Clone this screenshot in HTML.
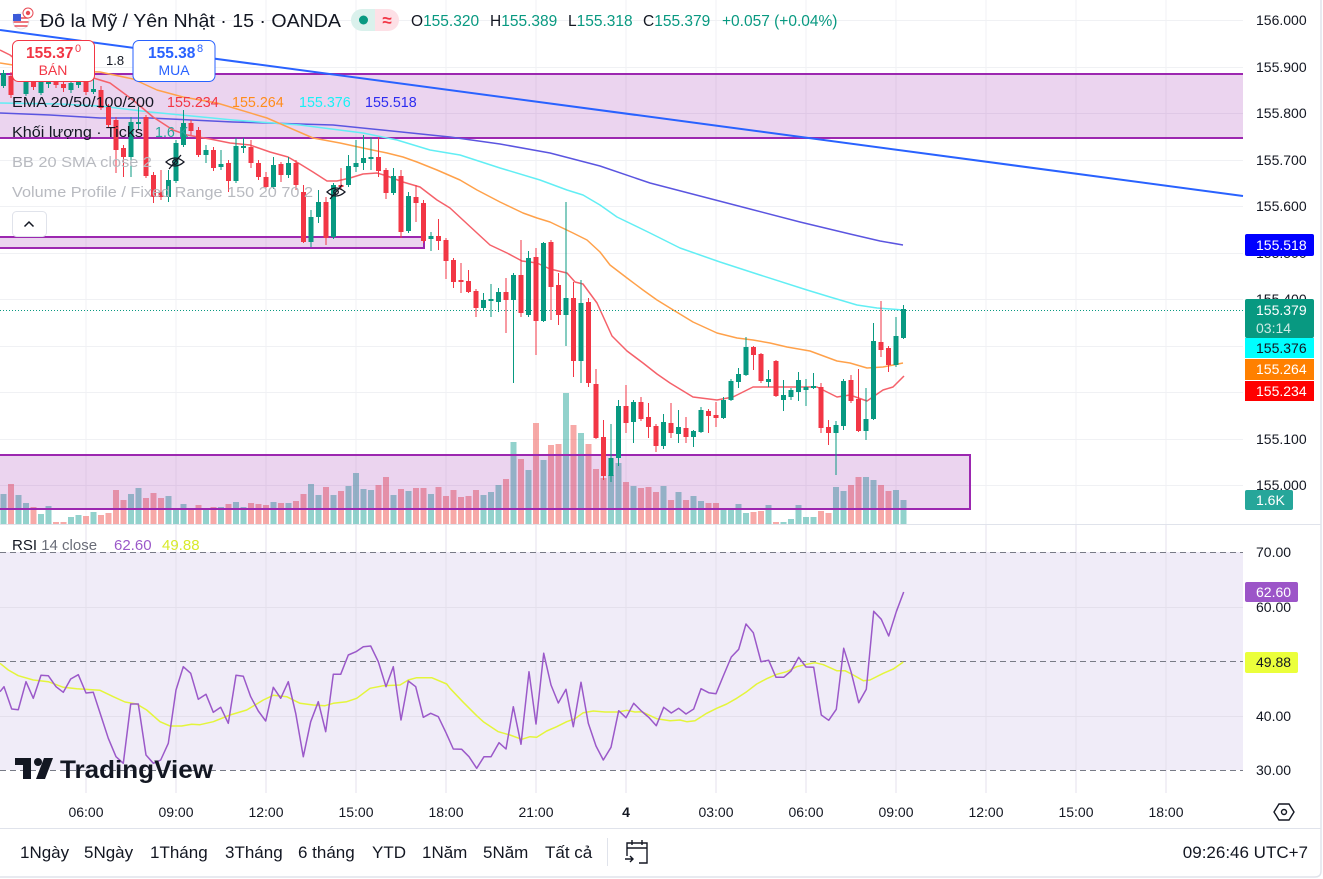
<!DOCTYPE html>
<html><head><meta charset="utf-8"><style>
html,body{margin:0;padding:0;background:#fff;}
svg{display:block;font-family:"Liberation Sans","DejaVu Sans",sans-serif;}
</style></head><body>
<svg width="1323" height="879" viewBox="0 0 1323 879" xmlns="http://www.w3.org/2000/svg">
<rect x="0" y="0" width="1323" height="879" fill="#fff"/>
<!-- grid -->
<g stroke="#f0f1f4" stroke-width="1">
<path d="M86 0V524M176 0V524M266 0V524M356 0V524M446 0V524M536 0V524M626 0V524M716 0V524M806 0V524M896 0V524M986 0V524M1076 0V524M1166 0V524"/>
<path d="M0 20.5H1243M0 67.5H1243M0 113.5H1243M0 160.5H1243M0 206.5H1243M0 253.5H1243M0 299.5H1243M0 346.5H1243M0 392.5H1243M0 439.5H1243M0 485.5H1243"/>
</g>
<!-- RSI pane -->
<rect x="0" y="552" width="1243" height="218" fill="#f0ecf8"/>
<g stroke="#e4e0ec" stroke-width="1">
<path d="M86 525V793M176 525V793M266 525V793M356 525V793M446 525V793M536 525V793M626 525V793M716 525V793M806 525V793M896 525V793M986 525V793M1076 525V793M1166 525V793"/>
<path d="M0 607.5H1243M0 716.5H1243"/>
</g>
<g stroke="#787b86" stroke-width="1" stroke-dasharray="6,4" fill="none">
<path d="M0 552.5H1243M0 661.5H1243M0 770.5H1243"/>
</g>
<!-- volume -->
<path fill="rgba(38,166,154,0.5)" d="M0.5 494h6V524h-6ZM15.5 495h6V524h-6ZM23 503h6V524h-6ZM38 514h6V524h-6ZM45.5 506h6V524h-6ZM68 517h6V524h-6ZM75.5 515h6V524h-6ZM90.5 512h6V524h-6ZM128 494h6V524h-6ZM135.5 488h6V524h-6ZM165.5 496h6V524h-6ZM173 508h6V524h-6ZM180.5 504h6V524h-6ZM203 509h6V524h-6ZM218 507h6V524h-6ZM233 502h6V524h-6ZM240.5 507h6V524h-6ZM270.5 502h6V524h-6ZM285.5 503h6V524h-6ZM308 484h6V524h-6ZM315.5 495h6V524h-6ZM330.5 495h6V524h-6ZM345.5 486h6V524h-6ZM353 473h6V524h-6ZM360.5 489h6V524h-6ZM368 490h6V524h-6ZM390.5 495h6V524h-6ZM405.5 491h6V524h-6ZM428 494h6V524h-6ZM480.5 495h6V524h-6ZM488 492h6V524h-6ZM495.5 485h6V524h-6ZM510.5 442h6V524h-6ZM525.5 470h6V524h-6ZM540.5 460h6V524h-6ZM563 393h6V524h-6ZM578 433h6V524h-6ZM608 475h6V524h-6ZM615.5 463h6V524h-6ZM630.5 486h6V524h-6ZM660.5 486h6V524h-6ZM675.5 492h6V524h-6ZM690.5 496h6V524h-6ZM698 501h6V524h-6ZM720.5 508h6V524h-6ZM728 508h6V524h-6ZM735.5 504h6V524h-6ZM743 513h6V524h-6ZM765.5 505h6V524h-6ZM780.5 522h6V524h-6ZM788 519h6V524h-6ZM795.5 505h6V524h-6ZM803 517h6V524h-6ZM810.5 517h6V524h-6ZM833 487h6V524h-6ZM840.5 491h6V524h-6ZM863 477h6V524h-6ZM870.5 480h6V524h-6ZM893 490h6V524h-6ZM900.5 500h6V524h-6Z"/>
<path fill="rgba(239,83,80,0.5)" d="M8 484h6V524h-6ZM30.5 507h6V524h-6ZM53 522h6V524h-6ZM60.5 522h6V524h-6ZM83 516h6V524h-6ZM98 515h6V524h-6ZM105.5 513h6V524h-6ZM113 490h6V524h-6ZM120.5 500h6V524h-6ZM143 498h6V524h-6ZM150.5 493h6V524h-6ZM158 498h6V524h-6ZM188 509h6V524h-6ZM195.5 505h6V524h-6ZM210.5 507h6V524h-6ZM225.5 504h6V524h-6ZM248 503h6V524h-6ZM255.5 504h6V524h-6ZM263 505h6V524h-6ZM278 503h6V524h-6ZM293 501h6V524h-6ZM300.5 494h6V524h-6ZM323 487h6V524h-6ZM338 491h6V524h-6ZM375.5 485h6V524h-6ZM383 477h6V524h-6ZM398 489h6V524h-6ZM413 488h6V524h-6ZM420.5 488h6V524h-6ZM435.5 487h6V524h-6ZM443 496h6V524h-6ZM450.5 490h6V524h-6ZM458 497h6V524h-6ZM465.5 496h6V524h-6ZM473 490h6V524h-6ZM503 479h6V524h-6ZM518 459h6V524h-6ZM533 423h6V524h-6ZM548 445h6V524h-6ZM555.5 444h6V524h-6ZM570.5 425h6V524h-6ZM585.5 444h6V524h-6ZM593 469h6V524h-6ZM600.5 478h6V524h-6ZM623 482h6V524h-6ZM638 488h6V524h-6ZM645.5 487h6V524h-6ZM653 492h6V524h-6ZM668 500h6V524h-6ZM683 500h6V524h-6ZM705.5 503h6V524h-6ZM713 503h6V524h-6ZM750.5 512h6V524h-6ZM758 511h6V524h-6ZM773 522h6V524h-6ZM818 511h6V524h-6ZM825.5 513h6V524h-6ZM848 485h6V524h-6ZM855.5 477h6V524h-6ZM878 485h6V524h-6ZM885.5 491h6V524h-6Z"/>
<!-- zones -->
<g fill="rgba(156,39,176,0.2)">
<rect x="0" y="74" width="1243" height="64"/>
<rect x="0" y="237" width="424" height="11"/>
<rect x="0" y="455" width="970" height="54"/>
</g>
<g stroke="#9c27b0" stroke-width="2" fill="none">
<path d="M0 74H1243M0 138H1243"/>
<path d="M0 237H424V248H0"/>
<path d="M0 455H970V509H0"/>
</g>
<!-- trendline -->
<line x1="0" y1="30" x2="1243" y2="196" stroke="#2962ff" stroke-width="2"/>
<!-- EMAs -->
<g fill="none" stroke-width="1.5" stroke-linejoin="round">
<polyline stroke="#5b55e0" points="0,113 50,115 100,118 150,118 233,122 333,125 450,137 500,144 550,153 600,166 650,183 700,196 750,209 800,222 850,234 880,241 903,245"/>
<polyline stroke="#62eef4" points="0,103 60,104 100,106 150,112 233,120 300,125 363,133 397,140 430,150 460,155 500,168 540,180 567,190 583,195 600,205 617,217 650,233 680,248 720,262 760,275 807,290 830,297 857,305 877,308 903,310"/>
<polyline stroke="#ffa14a" points="0,63 13,65 33,70 70,71 100,72 133,79 157,90 183,97 217,103 267,118 313,138 340,143 363,148 387,153 403,157 417,162 437,170 460,180 477,190 500,202 523,213 537,218 550,222 573,233 587,240 600,252 610,265 627,278 643,290 657,300 670,308 693,322 717,333 737,338 753,340 770,343 787,347 810,351 837,361 850,363 867,368 883,367 903,363"/>
<polyline stroke="#f5616a" points="0,50 10,55 20,63 40,68 60,72 90,77 110,83 133,100 153,117 173,130 187,135 210,139 230,143 250,145 270,152 288,157 300,164 313,172 327,181 337,181 350,178 363,174 377,173 387,176 403,182 420,187 437,200 450,208 477,233 490,245 507,253 522,261 537,263 550,269 567,273 575,282 583,284 597,303 612,336 627,351 643,363 657,374 670,383 693,397 717,400 733,397 753,387 777,387 817,387 837,397 850,395 867,401 883,390 893,387 904,376"/>
</g>
<!-- current price line -->
<line x1="0" y1="310.5" x2="1243" y2="310.5" stroke="#089981" stroke-width="1" stroke-dasharray="1,2"/>
<!-- candles green -->
<path stroke="#089981" stroke-width="1" fill="none" d="M3.5 70V88M18.5 66V82M26 78V96M41 78V95M48.5 76V88M71 79V93M78.5 78V88M93.5 78V94M131 117V177M138.5 107V130M168.5 170V202M176 140V183M183.5 110V147M206 145V163M221 150V170M236 138V183M243.5 138V153M273.5 157V189M288.5 157V178M311 210V247M318.5 190V223M333.5 183V239M348.5 155V187M356 140V172M363.5 135V170M371 137V170M393.5 168V195M408.5 192V233M431 232V251M483.5 293V310M491 284V317M498.5 288V312M513.5 273V383M528.5 251V317M543.5 242V322M566 202V346M581 280V383M611 424V482M618.5 400V466M633.5 400V443M663.5 414V449M678.5 410V443M693.5 430V447M701 407V433M723.5 397V419M731 379V401M738.5 368V388M746 337V376M768.5 370V387M783.5 380V411M791 388V400M798.5 372V401M806 379V406M813.5 373V389M836 421V475M843.5 379V430M866 388V440M873.5 323V420M896 317V367M903.5 305V339"/>
<path fill="#089981" d="M1 73h5V86h-5ZM16 70h5V80h-5ZM23.5 82h5V94h-5ZM38.5 82h5V93h-5ZM46 80h5V84h-5ZM68.5 83h5V90h-5ZM76 82h5V85h-5ZM91 89h5V92h-5ZM128.5 122h5V157h-5ZM136 122h5V124h-5ZM166 180h5V197h-5ZM173.5 143h5V181h-5ZM181 123h5V145h-5ZM203.5 150h5V155h-5ZM218.5 164h5V167h-5ZM233.5 146h5V181h-5ZM241 146h5V148h-5ZM271 165h5V187h-5ZM286 163h5V175h-5ZM308.5 217h5V242h-5ZM316 202h5V217h-5ZM331 185h5V237h-5ZM346 166h5V185h-5ZM353.5 163h5V167h-5ZM361 158h5V163h-5ZM368.5 157h5V159h-5ZM391 176h5V193h-5ZM406 196h5V231h-5ZM428.5 236h5V239h-5ZM481 300h5V308h-5ZM488.5 299h5V301h-5ZM496 292h5V302h-5ZM511 275h5V300h-5ZM526 258h5V315h-5ZM541 243h5V321h-5ZM563.5 298h5V315h-5ZM578.5 303h5V361h-5ZM608.5 458h5V476h-5ZM616 406h5V458h-5ZM631 402h5V422h-5ZM661 422h5V446h-5ZM676 427h5V434h-5ZM691 431h5V437h-5ZM698.5 410h5V432h-5ZM721 400h5V418h-5ZM728.5 381h5V400h-5ZM736 374h5V382h-5ZM743.5 347h5V375h-5ZM766 379h5V382h-5ZM781 395h5V400h-5ZM788.5 390h5V397h-5ZM796 380h5V392h-5ZM803.5 387h5V390h-5ZM811 386h5V388h-5ZM833.5 425h5V433h-5ZM841 381h5V426h-5ZM863.5 419h5V431h-5ZM871 341h5V419h-5ZM893.5 336h5V365h-5ZM901 309h5V338h-5Z"/>
<!-- candles red -->
<path stroke="#f23645" stroke-width="1" fill="none" d="M11 72V98M33.5 76V90M56 78V88M63.5 80V92M86 78V95M101 86V110M108.5 104V128M116 117V173M123.5 145V177M146 115V178M153.5 172V203M161 170V200M191 120V135M198.5 127V157M213.5 147V171M228.5 160V192M251 140V168M258.5 160V180M266 172V188M281 162V182M296 160V190M303.5 185V243M326 197V245M341 168V190M378.5 137V177M386 168V199M401 170V238M416 185V222M423.5 200V243M438.5 219V250M446 238V279M453.5 258V288M461 263V293M468.5 270V293M476 289V317M506 278V333M521 240V317M536 248V355M551 240V320M558.5 273V325M573.5 282V377M588.5 298V387M596 369V439M603.5 420V480M626 385V433M641 397V421M648.5 403V438M656 424V452M671 403V438M686 417V443M708.5 409V433M716 402V427M753.5 346V370M761 353V383M776 360V397M821 383V433M828.5 420V445M851 375V403M858.5 369V432M881 301V357M888.5 346V372"/>
<path fill="#f23645" d="M8.5 76h5V95h-5ZM31 80h5V87h-5ZM53.5 82h5V85h-5ZM61 84h5V88h-5ZM83.5 82h5V92h-5ZM98.5 90h5V108h-5ZM106 107h5V125h-5ZM113.5 120h5V150h-5ZM121 148h5V157h-5ZM143.5 117h5V176h-5ZM151 175h5V197h-5ZM158.5 192h5V197h-5ZM188.5 123h5V131h-5ZM196 130h5V155h-5ZM211 150h5V168h-5ZM226 163h5V181h-5ZM248.5 147h5V163h-5ZM256 163h5V177h-5ZM263.5 177h5V187h-5ZM278.5 164h5V175h-5ZM293.5 163h5V185h-5ZM301 192h5V242h-5ZM323.5 202h5V238h-5ZM338.5 185h5V187h-5ZM376 157h5V171h-5ZM383.5 170h5V193h-5ZM398.5 176h5V232h-5ZM413.5 197h5V203h-5ZM421 203h5V241h-5ZM436 236h5V241h-5ZM443.5 240h5V261h-5ZM451 260h5V282h-5ZM458.5 280h5V282h-5ZM466 281h5V292h-5ZM473.5 291h5V308h-5ZM503.5 292h5V300h-5ZM518.5 275h5V313h-5ZM533.5 257h5V321h-5ZM548.5 242h5V287h-5ZM556 285h5V315h-5ZM571 298h5V361h-5ZM586 302h5V383h-5ZM593.5 384h5V438h-5ZM601 437h5V476h-5ZM623.5 406h5V423h-5ZM638.5 402h5V419h-5ZM646 417h5V427h-5ZM653.5 426h5V446h-5ZM668.5 423h5V433h-5ZM683.5 428h5V437h-5ZM706 411h5V416h-5ZM713.5 415h5V418h-5ZM751 347h5V355h-5ZM758.5 354h5V381h-5ZM773.5 361h5V396h-5ZM818.5 387h5V428h-5ZM826 427h5V433h-5ZM848.5 380h5V401h-5ZM856 399h5V431h-5ZM878.5 342h5V350h-5ZM886 348h5V365h-5Z"/>
<!-- RSI lines -->
<polyline fill="none" stroke="#e4f53b" stroke-width="1.5" stroke-linejoin="round" points="0,663.3 8.3,670 18.3,675.7 33.3,680 48.3,681.7 63.3,687.3 76.7,688.7 100,690.3 113.3,696.7 125,702 136.7,704 146.7,710 160,721.7 170,726 181.7,726 191.7,724.3 200,724.7 213.3,721.7 230,715 246.7,710 263.3,700 273.3,695.3 286.7,696.7 300,703.3 313.3,705 325,705.7 333.3,703.3 346.7,701.7 356.7,698.3 370,688.3 383.3,685.7 400,685 408.3,680 416.7,677.7 431.7,677.7 446.7,684 450,688.3 463.3,702.3 476.7,715.7 483.3,721.7 498.3,731.7 510,735 521.7,739.3 530,736.7 536.7,737.3 546.7,731 556.7,726.7 566.7,721.7 575,718.7 583.3,712.7 593.3,711 605,712 618.3,712 626.7,710.3 635,712 641.7,711.7 656.7,718.7 670,720.7 680,720 686.7,721.7 695,720.7 706.7,713.3 716.7,708.3 726.7,704 736.7,698.3 746.7,691.7 756.7,684 766.7,678.7 776.7,674.3 786.7,671.7 796.7,666.7 806.7,664.3 815,662.7 823.3,664.7 836.7,670.7 845,670.7 853.3,675 863.3,680.7 870,680 883.3,673.3 893.3,669 903.3,662"/>
<polyline fill="none" stroke="#9b59c9" stroke-width="1.5" stroke-linejoin="round" points="0,691.7 4,686.7 11.7,709 18.3,709.7 26,681.7 33.3,698.3 41,675.3 48.3,675.7 56,686.7 63.3,692.3 70.7,679 78.3,674.7 86,693 93.3,692.3 100.7,715 108.3,738.3 116,756.7 123.3,763.3 130.7,704 138.3,704 146,755 153.3,763.3 160.7,760 168.3,743.3 176,690 183.3,666.7 190.7,673.3 198.3,699.3 206,694.3 213.3,712.3 220.7,707.3 228.3,723.3 236,675.3 243.3,676.3 250.7,696.7 258.3,711 265.7,721 273.3,687.3 280.7,698.3 288.3,681.7 295.7,713.3 303.3,756.7 310.7,721.7 318.3,701.7 325.7,731.7 333.3,674.3 340.7,674.3 348.3,655 356,651.7 363.3,646.7 370.7,646 378.3,661.7 386,686.7 393.3,666.7 401,720 408.3,681 415.7,686.7 423.3,717.3 430.7,713.3 438.3,716.7 446,732.7 453.3,749 461.7,749.3 469,756.7 476.7,768.3 484,756.7 491,756.7 499,742.7 506,749 513.3,706.7 521,744.3 529,671.7 536,724 543.7,653.3 551,685 558.3,703 566,689.3 573.3,726.7 581,682.3 588.3,723.3 596,746 603.3,760 611,747.3 618.7,710.7 626,717.7 633.7,703.3 641.3,711 648.7,717.3 656.3,725.7 663.7,707.3 671.3,713 678.7,708.3 686,714 693.7,709 701,688.7 708.7,692.7 716,693.7 723.7,675 731.3,657 738.7,649.3 746,624 753.3,632.7 761,661.7 768.7,660.3 776,677.3 783.7,677.3 791,671 798.7,657.3 806,667 813.7,667.3 821.3,715 828.7,720.3 836.3,709.3 843.7,648.3 851.3,672.7 858.7,702.7 866.3,689.3 873.7,611.3 881.3,619.3 888.7,636 896.3,611.7 903.7,592"/>
<!-- separators / borders -->
<path d="M0 524.5H1321M0 828.5H1321" stroke="#e0e3eb" stroke-width="1"/>
<path d="M1321 0V871Q1321 877 1315 877H0" stroke="#e0e3eb" stroke-width="1.5" fill="none"/>
<!-- header -->
<g>
<circle cx="21" cy="21" r="8" fill="#fff" stroke="#e0e3eb"/>
<path d="M14 18h14M13.5 22h15M14.5 26h13" stroke="#e84b55" stroke-width="1.6"/>
<rect x="13" y="14" width="8" height="7" fill="#3c5bd9"/>
<circle cx="28" cy="13" r="5" fill="#fff" stroke="#e84b55" stroke-width="1"/>
<circle cx="28" cy="13" r="2.2" fill="#e84b55"/>
</g>
<text x="40" y="27" font-size="18.5" fill="#131722" textLength="301" lengthAdjust="spacingAndGlyphs">Đô la Mỹ / Yên Nhật · 15 · OANDA</text>
<path d="M362 9h13v22h-13a11 11 0 0 1 0-22Z" fill="#daf1ec"/>
<path d="M375 9h13a11 11 0 0 1 0 22h-13Z" fill="#fde0e6"/>
<circle cx="363.5" cy="20" r="4.5" fill="#089981"/>
<text x="387" y="26" font-size="17" font-weight="bold" fill="#f23645" text-anchor="middle">≈</text>
<g font-size="15.5">
<text x="411" y="26" fill="#131722">O<tspan fill="#089981">155.320</tspan></text>
<text x="490" y="26" fill="#131722">H<tspan fill="#089981">155.389</tspan></text>
<text x="568" y="26" fill="#131722">L<tspan fill="#089981">155.318</tspan></text>
<text x="643" y="26" fill="#131722">C<tspan fill="#089981">155.379</tspan></text>
<text x="722" y="26" fill="#089981">+0.057 (+0.04%)</text>
</g>
<!-- sell / buy -->
<rect x="12.5" y="40.5" width="82" height="41" rx="6" fill="#fff" stroke="#f23645"/>
<text x="26" y="58" font-size="15.5" font-weight="bold" fill="#f23645">155.37</text>
<text x="75" y="52" font-size="11" fill="#f23645">0</text>
<text x="53" y="75" font-size="14" fill="#f23645" text-anchor="middle">BÁN</text>
<text x="106" y="65" font-size="13" fill="#131722">1.8</text>
<rect x="133" y="40.5" width="82" height="41" rx="6" fill="#fff" stroke="#2962ff"/>
<text x="148" y="58" font-size="15.5" font-weight="bold" fill="#2962ff">155.38</text>
<text x="197" y="52" font-size="11" fill="#2962ff">8</text>
<text x="174" y="75" font-size="14" fill="#2962ff" text-anchor="middle">MUA</text>
<!-- legend -->
<g font-size="14.3">
<text x="12" y="107" fill="#131722" textLength="142" lengthAdjust="spacingAndGlyphs">EMA 20/50/100/200</text>
<text x="167" y="107" fill="#f23645">155.234</text>
<text x="232" y="107" fill="#ff8c1a">155.264</text>
<text x="299" y="107" fill="#19f0f5">155.376</text>
<text x="365" y="107" fill="#2d2df0">155.518</text>
<text x="12" y="137" fill="#131722" textLength="131" lengthAdjust="spacingAndGlyphs">Khối lượng · Ticks</text>
<text x="155" y="137" fill="#26a69a">1.6 K</text>
<text x="12" y="167" fill="#b8bac0" textLength="140" lengthAdjust="spacingAndGlyphs">BB 20 SMA close 2</text>
<text x="12" y="197" fill="#b8bac0" textLength="301" lengthAdjust="spacingAndGlyphs">Volume Profile / Fixed Range 150 20 70 2</text>
</g>
<g fill="none" stroke="#131722" stroke-width="1.3">
<path d="M166 162q9 -8 18 0q-9 8 -18 0Z"/><circle cx="175" cy="162" r="2.3"/><path d="M169 169L181 155"/>
<path d="M327 192q9 -8 18 0q-9 8 -18 0Z"/><circle cx="336" cy="192" r="2.3"/><path d="M330 199L342 185"/>
</g>
<rect x="12.5" y="211.5" width="34" height="25" rx="4" fill="#fff" stroke="#e0e3eb"/>
<path d="M24.5 226.5L29 222L33.5 226.5" fill="none" stroke="#131722" stroke-width="1.5"/>
<!-- RSI legend -->
<text x="12" y="550" font-size="15" fill="#131722">RSI <tspan fill="#6a6d78">14 close</tspan></text>
<text x="114" y="550" font-size="15" fill="#9b59c9">62.60</text>
<text x="162" y="550" font-size="15" fill="#d8ea2a">49.88</text>
<!-- TradingView logo -->
<g fill="#131722">
<path d="M15 758h16v21h-8v-14h-8Z"/>
<circle cx="38" cy="762" r="4"/>
<path d="M44 758h9l-8 21h-9Z"/>
</g>
<text x="60" y="778" font-size="25" font-weight="bold" fill="#131722" textLength="153" lengthAdjust="spacingAndGlyphs">TradingView</text>
<!-- right axis -->
<g font-size="14" fill="#131722">
<text x="1256" y="25">156.000</text>
<text x="1256" y="72">155.900</text>
<text x="1256" y="118">155.800</text>
<text x="1256" y="165">155.700</text>
<text x="1256" y="211">155.600</text>
<text x="1256" y="258">155.500</text>
<text x="1256" y="304">155.400</text>
<text x="1256" y="444">155.100</text>
<text x="1256" y="490">155.000</text>
<text x="1256" y="557">70.00</text>
<text x="1256" y="612">60.00</text>
<text x="1256" y="721">40.00</text>
<text x="1256" y="775">30.00</text>
</g>
<rect x="1245" y="234" width="69" height="22" rx="2" fill="#0000ff"/>
<text x="1256" y="250" font-size="14" fill="#fff">155.518</text>
<rect x="1245" y="299" width="69" height="39" rx="2" fill="#089981"/>
<text x="1256" y="315" font-size="14" fill="#fff">155.379</text>
<text x="1256" y="333" font-size="14" fill="#cdeae4">03:14</text>
<rect x="1245" y="338" width="69" height="20" fill="#00ffff"/>
<text x="1256" y="353" font-size="14" fill="#131722">155.376</text>
<rect x="1245" y="359" width="69" height="21" fill="#ff8000"/>
<text x="1256" y="374" font-size="14" fill="#fff">155.264</text>
<rect x="1245" y="381" width="69" height="20" fill="#ff0000"/>
<text x="1256" y="396" font-size="14" fill="#fff">155.234</text>
<rect x="1245" y="490" width="48" height="20" rx="2" fill="#26a69a"/>
<text x="1256" y="505" font-size="14" fill="#fff">1.6K</text>
<rect x="1245" y="582" width="53" height="20" rx="2" fill="#9c55c8"/>
<text x="1256" y="597" font-size="14" fill="#fff">62.60</text>
<rect x="1245" y="652" width="53" height="21" rx="2" fill="#ebff3b"/>
<text x="1256" y="667" font-size="14" fill="#131722">49.88</text>
<!-- time axis -->
<g font-size="14" fill="#131722" text-anchor="middle">
<text x="86" y="817">06:00</text>
<text x="176" y="817">09:00</text>
<text x="266" y="817">12:00</text>
<text x="356" y="817">15:00</text>
<text x="446" y="817">18:00</text>
<text x="536" y="817">21:00</text>
<text x="626" y="817" font-weight="bold">4</text>
<text x="716" y="817">03:00</text>
<text x="806" y="817">06:00</text>
<text x="896" y="817">09:00</text>
<text x="986" y="817">12:00</text>
<text x="1076" y="817">15:00</text>
<text x="1166" y="817">18:00</text>
</g>
<path d="M1279 804h10l5 8l-5 8h-10l-5-8Z" fill="none" stroke="#131722" stroke-width="1.4"/>
<circle cx="1284" cy="812" r="2.5" fill="none" stroke="#131722" stroke-width="1.4"/>
<!-- toolbar -->
<g font-size="17" fill="#131722">
<text x="20" y="858">1Ngày</text>
<text x="84" y="858">5Ngày</text>
<text x="150" y="858">1Tháng</text>
<text x="225" y="858">3Tháng</text>
<text x="298" y="858">6 tháng</text>
<text x="372" y="858">YTD</text>
<text x="422" y="858">1Năm</text>
<text x="483" y="858">5Năm</text>
<text x="545" y="858">Tất cả</text>
<text x="1308" y="858" text-anchor="end">09:26:46 UTC+7</text>
</g>
<path d="M607.5 838V866" stroke="#e0e3eb"/>
<g fill="none" stroke="#131722" stroke-width="1.4">
<path d="M627 856V843h20v20h-8M627 848h20M632 840v5M642 840v5"/>
<path d="M625 859h8M630 856l3 3l-3 3"/>
</g>
</svg>
</body></html>
